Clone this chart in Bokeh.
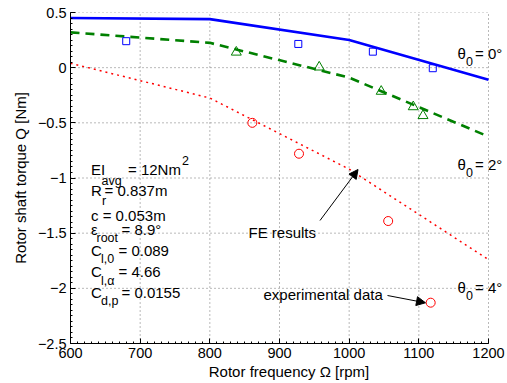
from bokeh.plotting import figure
from bokeh.models import (Range1d, SingleIntervalTicker, CustomJSTickFormatter,
                          Label, Arrow, NormalHead)
from bokeh.embed import file_html
from bokeh.resources import INLINE

# ---------------- data ----------------
omega_fe = [600, 800, 1000, 1200]
q_fe_theta0 = [0.45, 0.44, 0.25, -0.11]
q_fe_theta2 = [0.32, 0.225, -0.09, -0.625]
q_fe_theta4 = [0.04, -0.275, -0.92, -1.74]

omega_exp_theta0 = [680, 927, 1034, 1120]
q_exp_theta0 = [0.24, 0.215, 0.145, -0.005]
omega_exp_theta2 = [838, 957, 1046, 1092, 1106]
q_exp_theta2 = [0.14, 0.005, -0.215, -0.355, -0.435]
omega_exp_theta4 = [861, 928, 1056, 1117]
q_exp_theta4 = [-0.50, -0.78, -1.39, -2.13]

x_ticks = [600, 700, 800, 900, 1000, 1100, 1200]
y_ticks = [-2.5, -2.0, -1.5, -1.0, -0.5, 0.0, 0.5]

x_label = "Rotor frequency Ω [rpm]"
y_label = "Rotor shaft torque Q [Nm]"

# ---------------- figure ----------------
W, H = 507, 383
BL, BR, BT, BB = 70, 19, 12, 40
X0, X1, Y0, Y1 = 600, 1200, -2.5, 0.5
FW = W - BL - BR            # width of the axes box in pixels
FH = H - BT - BB
# extend the frame to the right edge so that the right-hand labels are not clipped
X1_ext = X1 + BR * (X1 - X0) / FW

p = figure(width=W, height=H, output_backend="svg", toolbar_location=None,
           x_range=Range1d(X0, X1_ext), y_range=Range1d(Y0, Y1),
           min_border_left=BL, min_border_right=0,
           min_border_top=BT, min_border_bottom=BB)
p.outline_line_color = None
p.background_fill_color = "white"
p.border_fill_color = "white"

FONT = "Liberation Sans"
fmt = CustomJSTickFormatter(code="""
    const v = Math.round(tick*10)/10;
    return v.toString().replace('-', '\u2212');
""")
for ax, iv in ((p.xaxis[0], 100), (p.yaxis[0], 0.5)):
    ax.ticker = SingleIntervalTicker(interval=iv, num_minor_ticks=10)
    ax.formatter = fmt
    ax.major_tick_in = 5
    ax.major_tick_out = 0
    ax.minor_tick_in = 2
    ax.minor_tick_out = 0
    ax.axis_line_color = "black"
    ax.major_tick_line_color = "black"
    ax.minor_tick_line_color = "black"
    ax.major_label_text_font = FONT
    ax.major_label_text_font_size = "14.5px"
    ax.major_label_text_color = "black"
    ax.axis_label_text_font = FONT
    ax.axis_label_text_font_size = "15px"
    ax.axis_label_text_font_style = "normal"
    ax.axis_label_text_color = "black"
p.xaxis.bounds = (X0, X1)
p.xaxis.axis_label = x_label
p.yaxis.axis_label = y_label
p.xaxis.major_label_standoff = 4
p.xaxis.axis_label_standoff = 2
p.yaxis.major_label_standoff = 4
p.yaxis.axis_label_standoff = 6

# dotted grid drawn only inside the axes box
p.xgrid.visible = False
p.ygrid.visible = False
GRID = dict(line_color="black", line_alpha=0.55, line_dash="1 3", line_width=1)
p.segment(x0=x_ticks[1:], y0=[Y0] * 6, x1=x_ticks[1:], y1=[Y1] * 6, **GRID)
p.segment(x0=[X0] * 6, y0=y_ticks[1:], x1=[X1] * 6, y1=y_ticks[1:], **GRID)

# ---------------- marks ----------------
p.line(omega_fe, q_fe_theta4, line_color="#ff0000", line_width=1.5, line_dash="2 4")
p.line(omega_fe, q_fe_theta2, line_color="#008000", line_width=2.6, line_dash="9 6")
p.line(omega_fe, q_fe_theta0, line_color="#0000ff", line_width=2.6)

p.scatter(omega_exp_theta0, q_exp_theta0, marker="square", size=7,
          fill_color=None, line_color="#0000ff", line_width=1)
p.scatter(omega_exp_theta2, q_exp_theta2, marker="triangle", size=10,
          fill_color=None, line_color="#008000", line_width=1)
p.scatter(omega_exp_theta4, q_exp_theta4, marker="circle", size=9,
          fill_color=None, line_color="#ff0000", line_width=1)

# ---------------- annotations (placed in pixels) ----------------
def dx(px):
    return X0 + (px - BL) * (X1 - X0) / FW
def dy(py):
    return Y1 - (py - BT) * (Y1 - Y0) / FH

MAIN, SUB = "15px", "12.5px"
def txt(s, px, py, size=MAIN):
    p.add_layout(Label(x=dx(px), y=dy(py), text=s, text_font=FONT,
                       text_font_size=size, text_color="black",
                       text_align="left", text_baseline="middle"))

# theta labels
for ang, cy in (("0", 53), ("2", 164), ("4", 287)):
    txt("θ", 457, cy)
    txt("0", 465.5, cy + 8, SUB)
    txt("= " + ang + "°", 474.5, cy)

# parameter block
txt("EI", 90.5, 169); txt("avg", 101, 180, SUB); txt("= 12Nm", 127.5, 169); txt("2", 181.5, 160, SUB)
txt("R", 90.5, 190); txt("r", 101.5, 200, SUB); txt("= 0.837m", 104, 190)
txt("c = 0.053m", 90.5, 215)
txt("ε", 90.5, 229); txt("root", 96, 237, SUB); txt("= 8.9°", 121, 229)
txt("C", 90.5, 250); txt("l,0", 100.5, 258, SUB); txt("= 0.089", 118, 250)
txt("C", 90.5, 271); txt("l,α", 100.5, 280, SUB); txt("= 4.66", 118, 271)
txt("C", 90.5, 292); txt("d,p", 100.5, 300, SUB); txt("= 0.0155", 121, 292)

# arrow annotations
txt("FE results", 248, 232)
p.add_layout(Arrow(x_start=dx(319.5), y_start=dy(220), x_end=dx(357.5), y_end=dy(169),
                   line_color="black", line_width=1,
                   end=NormalHead(size=9, fill_color="black", line_color="black")))
txt("experimental data", 263, 294)
p.add_layout(Arrow(x_start=dx(387), y_start=dy(295), x_end=dx(425), y_end=dy(302.3),
                   line_color="black", line_width=1,
                   end=NormalHead(size=9, fill_color="black", line_color="black")))

open("out.html", "w").write(file_html(p, INLINE))
